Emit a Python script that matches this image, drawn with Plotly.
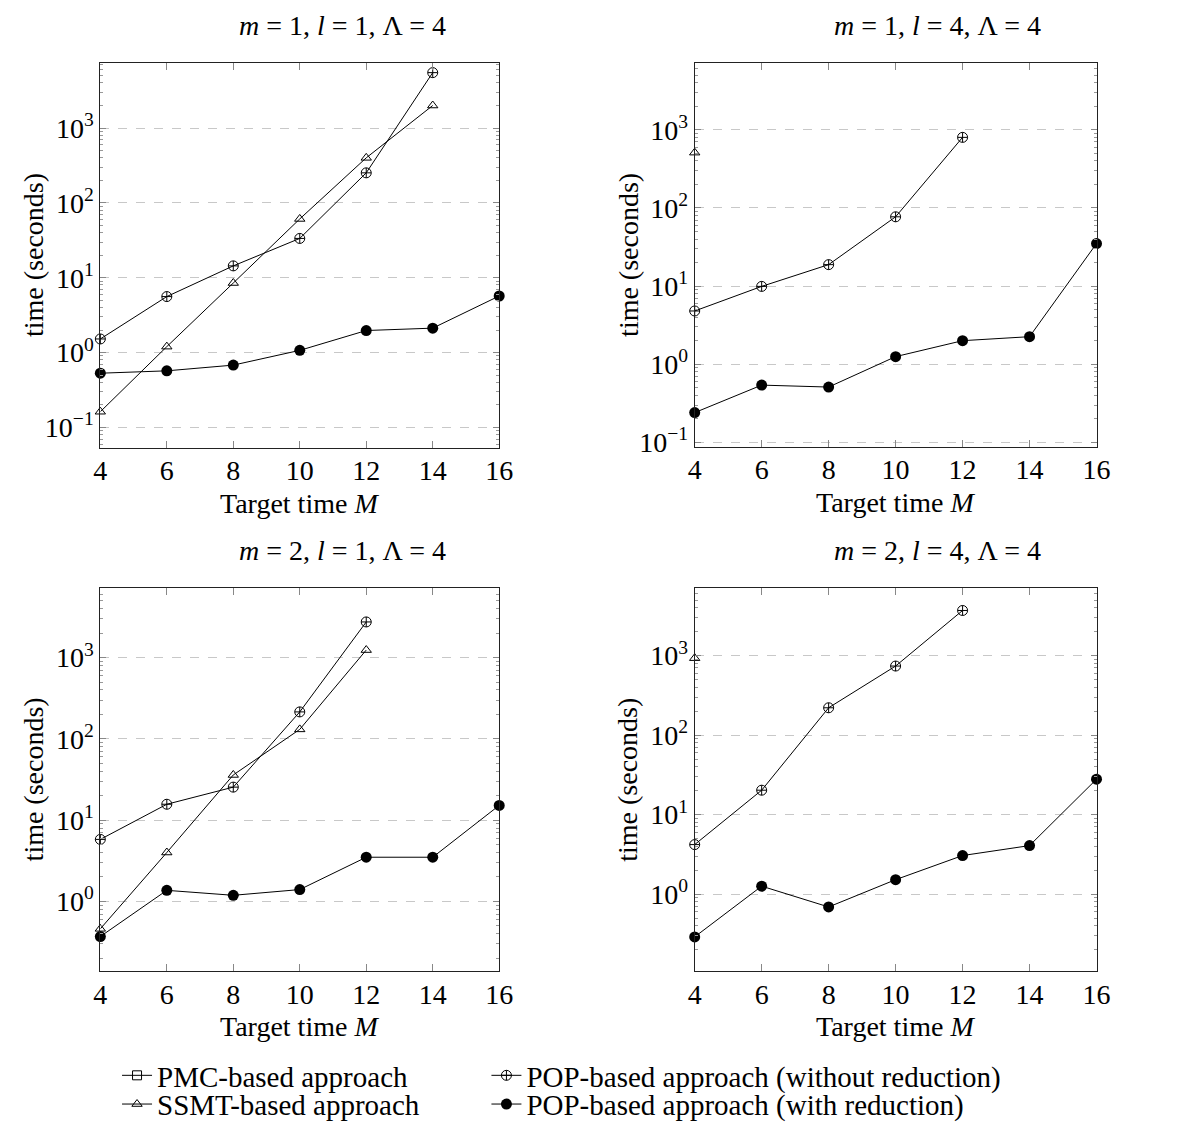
import plotly.graph_objects as go

# ---------------- data ----------------
M = [4, 6, 8, 10, 12, 14, 16]

titles = ["<i>m</i> = 1, <i>l</i> = 1, Λ = 4", "<i>m</i> = 1, <i>l</i> = 4, Λ = 4",
          "<i>m</i> = 2, <i>l</i> = 1, Λ = 4", "<i>m</i> = 2, <i>l</i> = 4, Λ = 4"]

# panel 1: m=1, l=1
p1_ssmt_x = [4, 6, 8, 10, 12, 14]
p1_ssmt = [0.162, 1.2, 8.5, 61, 400, 2000]
p1_popwo_x = [4, 6, 8, 10, 12, 14]
p1_popwo = [1.52, 5.6, 14.4, 33.5, 252, 5500]
p1_popw = [0.53, 0.57, 0.68, 1.07, 1.97, 2.12, 5.7]

# panel 2: m=1, l=4
p2_ssmt_x = [4]
p2_ssmt = [510]
p2_popwo_x = [4, 6, 8, 10, 12]
p2_popwo = [4.8, 9.9, 18.8, 77, 800]
p2_popw = [0.24, 0.54, 0.51, 1.25, 2.0, 2.25, 35]

# panel 3: m=2, l=1
p3_ssmt_x = [4, 6, 8, 10, 12]
p3_ssmt = [0.46, 4.0, 36, 131, 1240]
p3_popwo_x = [4, 6, 8, 10, 12]
p3_popwo = [5.8, 15.7, 25.5, 215, 2750]
p3_popw = [0.37, 1.37, 1.19, 1.4, 3.5, 3.5, 15.2]

# panel 4: m=2, l=4
p4_ssmt_x = [4]
p4_ssmt = [930]
p4_popwo_x = [4, 6, 8, 10, 12]
p4_popwo = [4.2, 20.3, 221, 740, 3700]
p4_popw = [0.29, 1.26, 0.69, 1.52, 3.06, 4.08, 27.9]

ytick_vals = [0.1, 1, 10, 100, 1000]
ytick_text = ["10<sup>−1</sup>", "10<sup>0</sup>", "10<sup>1</sup>", "10<sup>2</sup>", "10<sup>3</sup>"]
xtick_vals = [4, 6, 8, 10, 12, 14, 16]

legend_names = ["PMC-based approach", "SSMT-based approach",
                "POP-based approach (without reduction)", "POP-based approach (with reduction)"]

# ---------------- layout geometry ----------------
W, H = 1195, 1135
FONT = "Liberation Serif"
FS = 28
LFS = 29

def px_x(a, b):
    return [a / W, b / W]

def px_y(top, bottom):
    return [1 - bottom / H, 1 - top / H]

panels = [
    dict(xd=px_x(95, 501), yd=px_y(64, 452), yr=[-1.27, 3.864]),
    dict(xd=px_x(700, 1109), yd=px_y(64, 451), yr=[-1.055, 3.85]),
    dict(xd=px_x(95, 501), yd=px_y(594, 981), yr=[-0.862, 3.854]),
    dict(xd=px_x(700, 1109), yd=px_y(594, 981), yr=[-0.973, 3.848]),
]

data = [
    (p1_ssmt_x, p1_ssmt, p1_popwo_x, p1_popwo, p1_popw),
    (p2_ssmt_x, p2_ssmt, p2_popwo_x, p2_popwo, p2_popw),
    (p3_ssmt_x, p3_ssmt, p3_popwo_x, p3_popwo, p3_popw),
    (p4_ssmt_x, p4_ssmt, p4_popwo_x, p4_popwo, p4_popw),
]

fig = go.Figure()

line_style = dict(color="black", width=1)

# legend cells: legend = PMC (col1,row1), legend2 = SSMT (col1,row2),
# legend3 = POP without (col2,row1), legend4 = POP with (col2,row2)
fig.add_trace(go.Scatter(x=[None], y=[None], mode="lines+markers", name=legend_names[0],
                         line=line_style, showlegend=True,
                         marker=dict(symbol="square-open", size=9, color="black", line=dict(width=1)),
                         legend="legend", xaxis="x", yaxis="y"))

for i, (sx, sy, wx, wy, py) in enumerate(data):
    xa = "x" if i == 0 else f"x{i+1}"
    ya = "y" if i == 0 else f"y{i+1}"
    show = i == 0
    fig.add_trace(go.Scatter(
        x=sx, y=sy, mode="lines+markers" if len(sx) > 1 else "markers",
        name=legend_names[1], line=line_style,
        marker=dict(symbol="triangle-up-open", size=9, color="black", line=dict(width=1, color="black")),
        showlegend=show, legend="legend2", cliponaxis=False, xaxis=xa, yaxis=ya))
    fig.add_trace(go.Scatter(
        x=wx, y=wy, mode="lines+markers", name=legend_names[2], line=line_style,
        marker=dict(symbol="circle-cross-open", size=10, color="black", line=dict(width=1, color="black")),
        showlegend=show, legend="legend3", cliponaxis=False, xaxis=xa, yaxis=ya))
    fig.add_trace(go.Scatter(
        x=M, y=py, mode="lines+markers", name=legend_names[3], line=line_style,
        marker=dict(symbol="circle", size=11, color="black"),
        showlegend=show, legend="legend4", cliponaxis=False, xaxis=xa, yaxis=ya))

legend_common = dict(xanchor="left", yanchor="middle", orientation="v", visible=True,
                     bgcolor="rgba(0,0,0,0)", font=dict(size=LFS), itemwidth=30)

layout = dict(
    width=W, height=H,
    margin=dict(l=0, r=0, t=0, b=0),
    showlegend=True,
    paper_bgcolor="white", plot_bgcolor="white",
    font=dict(family=FONT, size=FS, color="black"),
    legend=dict(x=112 / W, y=1 - 1086 / H, **legend_common),
    legend2=dict(x=112 / W, y=1 - 1115 / H, **legend_common),
    legend3=dict(x=488 / W, y=1 - 1086 / H, **legend_common),
    legend4=dict(x=488 / W, y=1 - 1115 / H, **legend_common),
)

minor_vals = [k * 10 ** e for e in range(-2, 5) for k in range(2, 10)]

annotations = []
for i, p in enumerate(panels):
    xk = "xaxis" if i == 0 else f"xaxis{i+1}"
    yk = "yaxis" if i == 0 else f"yaxis{i+1}"
    ya = "y" if i == 0 else f"y{i+1}"
    xa = "x" if i == 0 else f"x{i+1}"
    layout[xk] = dict(domain=p["xd"], anchor=ya, range=[4, 16], tickmode="array", tickvals=xtick_vals,
                      ticks="inside", ticklen=7, tickcolor="#888888", tickwidth=1,
                      showline=True, linecolor="#222222", linewidth=1, mirror="ticks",
                      showgrid=False, zeroline=False, tickfont=dict(size=FS), ticklabelstandoff=-2)
    layout[yk] = dict(domain=p["yd"], anchor=xa, type="log", range=p["yr"], tickmode="array",
                      tickvals=ytick_vals, ticktext=ytick_text,
                      ticks="inside", ticklen=6, tickcolor="#888888", tickwidth=1,
                      minor=dict(tickmode="array", tickvals=minor_vals, ticks="inside", ticklen=3,
                                 tickcolor="#999999", showgrid=False),
                      showline=True, linecolor="#222222", linewidth=1, mirror="ticks",
                      showgrid=True, gridcolor="#c8c8c8", griddash="dash", gridwidth=1,
                      zeroline=False, tickfont=dict(size=FS))
    cx = (p["xd"][0] + p["xd"][1]) / 2
    top = p["yd"][1]
    bottom = p["yd"][0]
    annotations.append(dict(text=titles[i], x=cx + 43 / W, y=top + 38 / H, xref="paper", yref="paper",
                            showarrow=False, xanchor="center", yanchor="middle", font=dict(size=FS)))
    annotations.append(dict(text="Target time <i>M</i>", x=cx, y=bottom - 56 / H, xref="paper", yref="paper",
                            showarrow=False, xanchor="center", yanchor="middle", font=dict(size=FS)))
    annotations.append(dict(text="time (seconds)", x=p["xd"][0] - 68 / W, y=(top + bottom) / 2,
                            xref="paper", yref="paper", textangle=-90,
                            showarrow=False, xanchor="center", yanchor="middle", font=dict(size=FS)))

layout["annotations"] = annotations
fig.update_layout(**layout)

fig.write_html("out.html")
